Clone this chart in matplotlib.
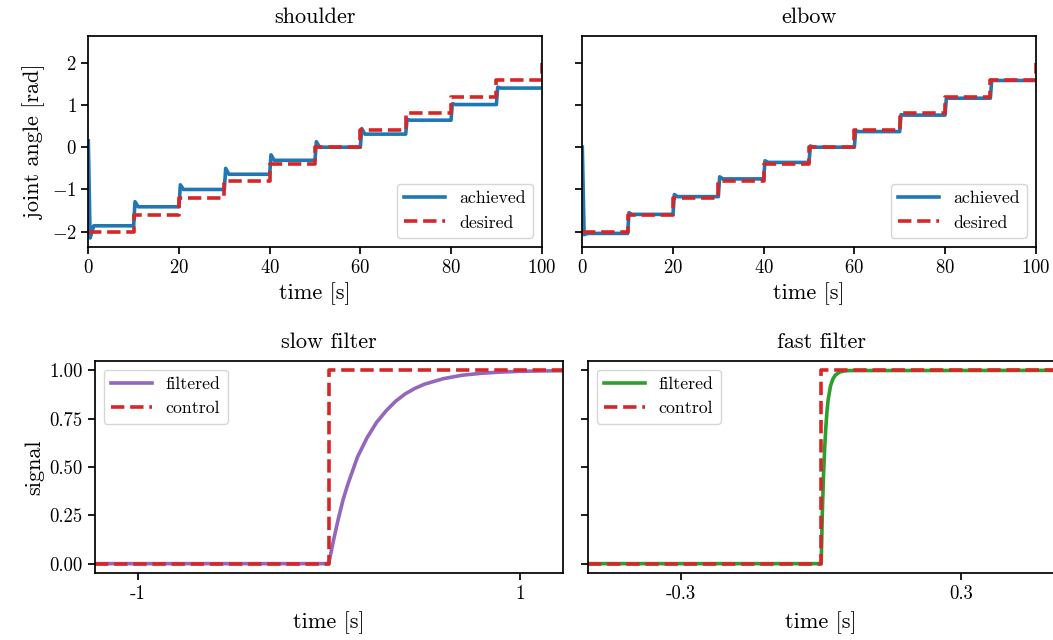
import numpy as np
import matplotlib
matplotlib.use("Agg")
import matplotlib.pyplot as plt

plt.rcParams.update({
    "font.family": "serif",
    "font.serif": ["cmr10", "DejaVu Serif"],
    "mathtext.fontset": "cm",
    "axes.formatter.use_mathtext": True,
    "axes.linewidth": 1.25,
    "xtick.major.width": 1.25,
    "ytick.major.width": 1.25,
    "xtick.major.size": 5,
    "ytick.major.size": 5,
    "xtick.labelsize": 13.5,
    "ytick.labelsize": 13.5,
    "axes.titlesize": 16,
    "axes.labelsize": 16,
    "legend.fontsize": 12.8,
})

# ---------------- data ----------------
step_times = [0, 10, 20, 30, 40, 50, 60, 70, 80, 90, 100]
desired = [-2.0, -1.6, -1.2, -0.8, -0.4, 0.0, 0.4, 0.8, 1.2, 1.6, 2.0]

# shoulder achieved: start transient, settled levels, overshoot peaks at steps 10..90
shoulder_start = [0.15, -2.15]
shoulder_levels = [-1.86, -1.41, -1.0, -0.64, -0.31, 0.0, 0.31, 0.64, 1.01, 1.40]
shoulder_peaks = [-1.29, -0.89, -0.50, -0.18, 0.13, 0.44, 0.66, 1.03, 1.42]

elbow_start = [0.0, -2.07]
elbow_levels = [-2.04, -1.59, -1.17, -0.75, -0.36, 0.0, 0.37, 0.76, 1.16, 1.58]
elbow_peaks = [-1.55, -1.12, -0.70, -0.32, 0.03, 0.39, 0.77, 1.17, 1.59]

# filter responses
slow_t = [-1.225, 0.0, 0.025, 0.05, 0.075, 0.1, 0.125, 0.15, 0.175, 0.2, 0.25, 0.3, 0.35,
          0.4, 0.45, 0.5, 0.6, 0.7, 0.8, 0.9, 1.0, 1.1, 1.225]
slow_filtered = [0.0, 0.0, 0.12, 0.23, 0.33, 0.41, 0.48, 0.55, 0.60, 0.65, 0.73, 0.79, 0.84,
                 0.878, 0.906, 0.928, 0.957, 0.975, 0.985, 0.991, 0.995, 0.997, 0.998]
slow_ctrl_t = [-1.225, 0.0, 0.0, 1.225]
slow_control = [0.0, 0.0, 1.0, 1.0]

fast_t = [-0.5, 0.0, 0.0025, 0.005, 0.0075, 0.01, 0.0125, 0.015, 0.02, 0.025, 0.03, 0.04, 0.05, 0.06, 0.5]
fast_filtered = [0.0, 0.0, 0.27, 0.46, 0.6, 0.71, 0.79, 0.85, 0.92, 0.955, 0.975, 0.992, 0.997, 0.999, 1.0]
fast_ctrl_t = [-0.5, 0.0, 0.0, 0.5]
fast_control = [0.0, 0.0, 1.0, 1.0]

slow_ticks = [-1, 1]
slow_ticklabels = ["-1", "1"]
fast_ticks = [-0.3, 0.3]
fast_ticklabels = ["-0.3", "0.3"]

BLUE, RED, PURPLE, GREEN = "#1f77b4", "#d62728", "#9467bd", "#2ca02c"


def achieved_path(start, levels, peaks):
    t = [0.0, 0.4, 1.2]
    y = [start[0], start[1], levels[0]]
    for k, (lev, pk) in enumerate(zip(levels[1:], peaks)):
        ts = step_times[k + 1]
        t += [ts, ts + 0.3, ts + 1.0]
        y += [levels[k], pk, lev]
    t.append(step_times[-1])
    y.append(levels[-1])
    return t, y


W, H = 1053, 640
fig = plt.figure(figsize=(W / 100, H / 100), dpi=100)


def ax_px(l, t, r, b):
    return fig.add_axes([l / W, 1 - b / H, (r - l) / W, (b - t) / H])


ax1 = ax_px(88.3, 35.7, 541.7, 246.7)
ax2 = ax_px(582.3, 35.7, 1035.7, 246.7)
ax3 = ax_px(94.7, 360.7, 562.7, 573.3)
ax4 = ax_px(587.7, 360.7, 1054.7, 573.3)

for ax, title, (start, levels, peaks) in [
    (ax1, "shoulder", (shoulder_start, shoulder_levels, shoulder_peaks)),
    (ax2, "elbow", (elbow_start, elbow_levels, elbow_peaks)),
]:
    t, y = achieved_path(start, levels, peaks)
    ax.plot(t, y, color=BLUE, lw=2.6, label="achieved")
    ax.plot(step_times, desired, color=RED, lw=2.6, ls="--", drawstyle="steps-post", label="desired")
    ax.set_xlim(0, 100)
    ax.set_ylim(-2.355, 2.64)
    ax.set_yticks([-2, -1, 0, 1, 2])
    ax.set_xticks([0, 20, 40, 60, 80, 100])
    ax.set_title(title, pad=9)
    ax.set_xlabel("time [s]")
    ax.legend(loc="lower right", handlelength=2.3)

ax1.set_ylabel("joint angle [rad]")
ax2.tick_params(labelleft=False)

ax3.plot(slow_t, slow_filtered, color=PURPLE, lw=2.6, label="filtered")
ax3.plot(slow_ctrl_t, slow_control, color=RED, lw=2.6, ls="--", label="control")
ax3.set_xlim(-1.225, 1.225)
ax3.set_xticks(slow_ticks)
ax3.set_xticklabels(slow_ticklabels)
ax3.set_title("slow filter", pad=9)
ax3.set_ylabel("signal")

ax4.plot(fast_t, fast_filtered, color=GREEN, lw=2.6, label="filtered")
ax4.plot(fast_ctrl_t, fast_control, color=RED, lw=2.6, ls="--", label="control")
ax4.set_xlim(-0.5, 0.5)
ax4.set_xticks(fast_ticks)
ax4.set_xticklabels(fast_ticklabels)
ax4.set_title("fast filter", pad=9)
ax4.tick_params(labelleft=False)

for ax in (ax3, ax4):
    ax.set_ylim(-0.05, 1.05)
    ax.set_yticks([0, 0.25, 0.5, 0.75, 1.0])
    ax.set_yticklabels(["0.00", "0.25", "0.50", "0.75", "1.00"])
    ax.set_xlabel("time [s]", labelpad=6)
    ax.legend(loc="upper left", handlelength=2.3)

fig.savefig("out.png", dpi=100)
